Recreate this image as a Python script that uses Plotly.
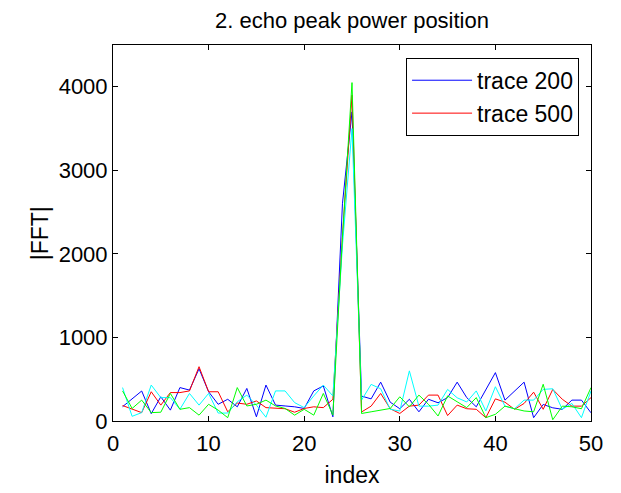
import plotly.graph_objects as go

index = list(range(1, 51))

trace200 = [171, 265, 359, 88, 290, 130, 400, 370, 625, 350,
            200, 260, 170, 390, 50, 430, 190, 180, 170, 150,
            360, 420, 50, 2600, 3700, 298, 265, 465, 225, 147,
            260, 110, 260, 218, 280, 465, 280, 170, 378, 579,
            250, 360, 465, 40, 198, 158, 140, 250, 250, 98]

trace500 = [185, 140, 100, 350, 190, 340, 340, 360, 650, 350,
            350, 110, 215, 200, 240, 160, 155, 147, 105, 150,
            170, 160, 260, 2200, 3900, 108, 178, 330, 147, 90,
            178, 190, 310, 310, 65, 190, 147, 140, 40, 265,
            225, 140, 210, 345, 140, 378, 260, 178, 178, 280]

trace_c = [400, 56, 100, 430, 280, 280, 140, 330, 190, 330,
           95, 95, 230, 310, 190, 45, 360, 360, 220, 160,
           300, 430, 300, 2100, 3500, 250, 438, 386, 140, 120,
           600, 178, 178, 190, 378, 278, 228, 360, 120, 410,
           178, 147, 250, 250, 378, 386, 140, 210, 40, 360]

trace_g = [360, 150, 250, 100, 105, 330, 140, 160, 70, 200,
           130, 40, 400, 180, 200, 250, 180, 150, 70, 140,
           70, 330, 70, 2200, 4050, 90, 110, 130, 150, 290,
           170, 310, 200, 60, 300, 230, 160, 280, 40, 80,
           178, 147, 120, 110, 440, 15, 178, 170, 147, 400]

x_ticks = [0, 10, 20, 30, 40, 50]
y_ticks = [0, 1000, 2000, 3000, 4000]

series = [
    ("trace 200", trace200, "#0000ff", True),
    ("trace 500", trace500, "#ff0000", True),
    ("trace c", trace_c, "#00ffff", False),
    ("trace g", trace_g, "#00ff00", False),
]

fig = go.Figure()
for name, vals, color, show in series:
    fig.add_trace(go.Scatter(x=index, y=vals, mode="lines", name=name,
                             line=dict(color=color, width=1),
                             showlegend=show))

axis_common = dict(showline=True, linecolor="black", linewidth=1, mirror="ticks",
                   ticks="inside", ticklen=5, tickcolor="black", showgrid=False,
                   zeroline=False, automargin=False,
                   tickfont=dict(size=22, color="black"))

fig.update_layout(
    width=621, height=493,
    margin=dict(l=113, r=30, t=45, b=72),
    paper_bgcolor="white", plot_bgcolor="white",
    font=dict(family="Liberation Sans, Arial, sans-serif", size=22, color="black"),
    title=dict(text="2. echo peak power position", x=0.5, xref="paper", xanchor="center",
               y=0.959, yanchor="middle", font=dict(size=22)),
    xaxis=dict(range=[0, 50], tickvals=x_ticks, ticklabelstandoff=3,
               title=dict(text="index", font=dict(size=23), standoff=11), **axis_common),
    yaxis=dict(range=[0, 4500], tickvals=y_ticks, **axis_common),
    legend=dict(x=0.975, y=0.966, xanchor="right", yanchor="top",
                bordercolor="black", borderwidth=1, bgcolor="white",
                font=dict(size=23), itemwidth=60, tracegroupgap=0),
    annotations=[dict(text="|FFT|", textangle=-90, xref="paper", yref="paper",
                      x=-0.152, y=0.5, xanchor="center", yanchor="middle",
                      showarrow=False, font=dict(size=23))],
)

fig.write_html("out.html", config={"displayModeBar": False},
               post_script="document.body.style.margin='0';")
